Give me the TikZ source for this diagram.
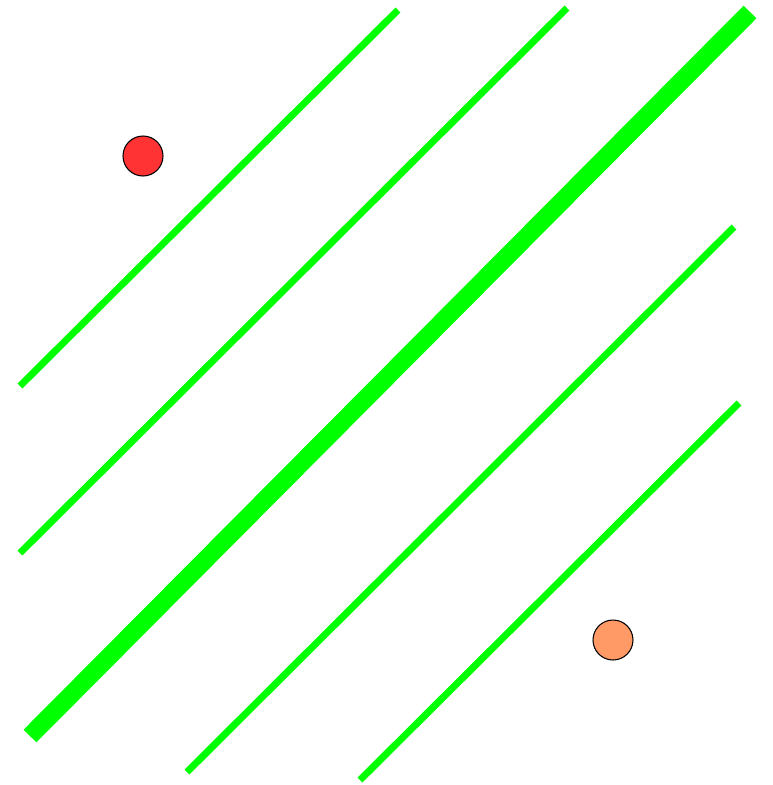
\documentclass[tikz,border=0pt]{standalone}
\usepackage{tikz}
\usetikzlibrary{positioning,calc}

\definecolor{stripegreen}{RGB}{0,255,0}
\definecolor{dotred}{RGB}{255,51,51}
\definecolor{dotorange}{RGB}{255,153,102}

\begin{document}
\begin{tikzpicture}[
        x=0.02cm, y=-0.02cm,
        stripe/.style={draw=stripegreen, line width=7*0.02cm, line cap=butt},
        widestripe/.style={draw=stripegreen, line width=18*0.02cm, line cap=butt},
        dot/.style={circle, draw=black, line width=0.6pt, minimum size=40*0.02cm, inner sep=0pt}
        ]
        \useasboundingbox (0,0) rectangle (772,785);

        % stripe end points
        \coordinate (s1a) at (20,386);
        \coordinate (s1b) at (398,10);
        \coordinate (s2a) at (20,553);
        \coordinate (s2b) at (567,8);
        \coordinate (s3a) at (30,736);
        \coordinate (s3b) at (750,12);
        \coordinate (s4a) at (187,772);
        \coordinate (s4b) at (734,227);
        \coordinate (s5a) at (360,780);
        \coordinate (s5b) at (739,403);

        \draw[stripe] (s1a) -- (s1b);
        \draw[stripe] (s2a) -- (s2b);
        \draw[widestripe] (s3a) -- (s3b);
        \draw[stripe] (s4a) -- (s4b);
        \draw[stripe] (s5a) -- (s5b);

        \node[dot, fill=dotred] (reddot) at (143,156) {};
        \node[dot, fill=dotorange] (orangedot) at (613,640) {};

    \end{tikzpicture}
\end{document}
